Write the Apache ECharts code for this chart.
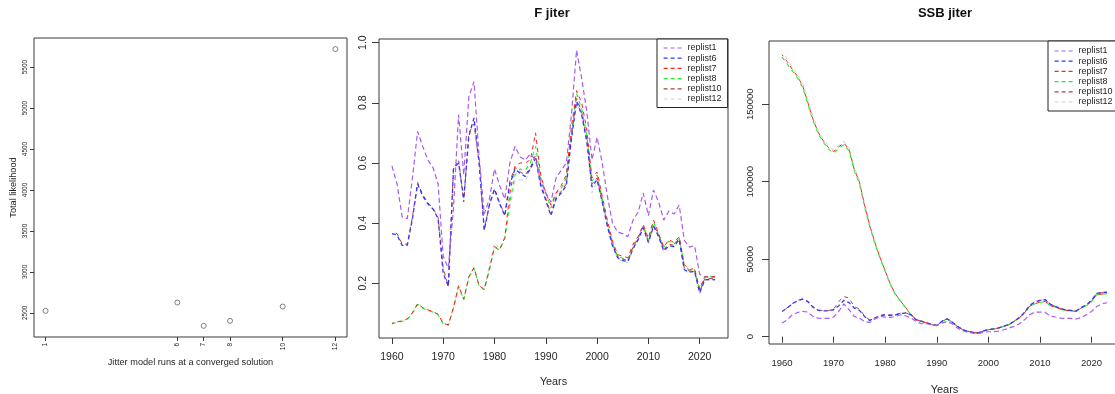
<!DOCTYPE html>
<html><head><meta charset="utf-8">
<script src="https://cdn.jsdelivr.net/npm/echarts@6/dist/echarts.min.js"></script>
<style>html,body{margin:0;padding:0;background:#fff}#c{width:1115px;height:394px}</style>
</head><body><div id="c"></div>
<script>
// ---------- data ----------
const jitterRuns = [1, 6, 7, 8, 10, 12];
const totalLikelihood = [2524, 2626, 2341, 2402, 2577, 5720];
const runTicks = [1, 6, 7, 8, 10, 12];
const likelihoodTicks = [2500, 3000, 3500, 4000, 4500, 5000, 5500];

const years = [1960,1961,1962,1963,1964,1965,1966,1967,1968,1969,1970,1971,1972,1973,1974,1975,1976,1977,1978,1979,
  1980,1981,1982,1983,1984,1985,1986,1987,1988,1989,1990,1991,1992,1993,1994,1995,1996,1997,1998,1999,
  2000,2001,2002,2003,2004,2005,2006,2007,2008,2009,2010,2011,2012,2013,2014,2015,2016,2017,2018,2019,
  2020,2021,2022,2023];
const yearTicks = [1960, 1970, 1980, 1990, 2000, 2010, 2020];
const fTicks = [0.2, 0.4, 0.6, 0.8, 1.0];
const ssbTicks = [0, 50000, 100000, 150000];
const replistNames = ['replist1', 'replist6', 'replist7', 'replist8', 'replist10', 'replist12'];

// F by year
const F_replist1 = [0.59,0.53,0.42,0.415,0.55,0.705,0.655,0.61,0.585,0.53,0.29,0.25,0.45,0.76,0.56,0.82,0.87,0.62,0.43,0.48,
  0.58,0.525,0.48,0.60,0.655,0.62,0.61,0.63,0.61,0.54,0.50,0.47,0.55,0.575,0.60,0.76,0.975,0.88,0.77,0.61,
  0.685,0.60,0.49,0.40,0.37,0.365,0.355,0.41,0.436,0.50,0.425,0.51,0.47,0.41,0.44,0.43,0.46,0.343,0.32,0.325,
  0.23,0.22,0.22,0.22];
const F_replist6 = [0.365,0.36,0.326,0.326,0.415,0.53,0.49,0.464,0.447,0.415,0.233,0.19,0.58,0.60,0.48,0.69,0.75,0.60,0.376,0.46,
  0.513,0.464,0.425,0.53,0.58,0.565,0.555,0.58,0.615,0.525,0.475,0.425,0.48,0.50,0.525,0.68,0.805,0.76,0.67,0.52,
  0.545,0.47,0.39,0.325,0.285,0.275,0.272,0.315,0.345,0.385,0.335,0.39,0.355,0.308,0.325,0.322,0.345,0.245,0.237,0.24,
  0.168,0.212,0.212,0.212];
const F_replist7 = [0.067,0.072,0.075,0.082,0.102,0.132,0.119,0.112,0.106,0.097,0.067,0.062,0.119,0.192,0.147,0.222,0.252,0.192,0.18,0.246,
  0.322,0.312,0.352,0.50,0.59,0.60,0.60,0.61,0.70,0.56,0.50,0.46,0.50,0.525,0.56,0.72,0.84,0.80,0.71,0.55,
  0.57,0.49,0.41,0.34,0.295,0.29,0.285,0.33,0.355,0.395,0.35,0.41,0.365,0.32,0.345,0.335,0.355,0.262,0.245,0.25,
  0.18,0.222,0.222,0.222];
const F_replist8 = [0.065,0.07,0.073,0.08,0.10,0.13,0.117,0.11,0.104,0.095,0.065,0.06,0.117,0.19,0.145,0.22,0.25,0.19,0.178,0.244,
  0.32,0.31,0.35,0.47,0.56,0.58,0.575,0.60,0.655,0.55,0.50,0.45,0.50,0.515,0.55,0.70,0.83,0.78,0.69,0.54,
  0.56,0.48,0.40,0.335,0.29,0.283,0.278,0.325,0.35,0.39,0.345,0.405,0.36,0.32,0.34,0.33,0.352,0.26,0.243,0.245,
  0.18,0.222,0.222,0.222];
const F_replist10 = [0.372,0.365,0.33,0.33,0.42,0.535,0.495,0.468,0.45,0.418,0.25,0.19,0.58,0.61,0.47,0.70,0.73,0.60,0.38,0.46,
  0.515,0.466,0.428,0.54,0.585,0.57,0.56,0.585,0.625,0.53,0.48,0.43,0.485,0.505,0.53,0.69,0.815,0.77,0.68,0.53,
  0.55,0.475,0.395,0.33,0.29,0.28,0.276,0.32,0.35,0.39,0.34,0.395,0.36,0.312,0.33,0.326,0.35,0.25,0.24,0.245,
  0.172,0.216,0.216,0.216];
const F_replist12 = [0.066,0.071,0.074,0.081,0.101,0.131,0.118,0.111,0.105,0.096,0.066,0.061,0.118,0.191,0.146,0.221,0.251,0.191,0.179,0.26,
  0.335,0.315,0.345,0.45,0.54,0.545,0.54,0.58,0.63,0.53,0.49,0.43,0.49,0.51,0.54,0.69,0.80,0.76,0.67,0.50,
  0.54,0.47,0.39,0.322,0.282,0.272,0.268,0.312,0.342,0.382,0.332,0.388,0.352,0.305,0.322,0.32,0.342,0.242,0.235,0.238,
  0.165,0.21,0.21,0.21];

// SSB by year
const SSB_replist1 = [8800,10900,14150,15650,16300,15900,13100,12000,11800,11800,12700,16300,21200,17400,13100,12000,9850,9200,11400,13100,
  12700,12400,13100,14150,13500,12000,9850,8350,8350,7700,7080,8800,9850,8350,5580,3860,2790,2360,1930,2790,
  3220,3220,3650,4500,5580,6650,8350,10900,14150,15900,15900,15650,13500,12700,12000,11800,11800,11400,12400,14150,
  16300,19500,21200,21900];
const SSB_replist6 = [16300,18450,21200,23200,24200,22700,19100,17000,16700,16700,17400,20000,23500,22000,18500,17000,13100,10500,12000,13500,
  14150,13700,14150,15000,15250,14150,11000,10000,9000,7900,7300,10000,11600,9400,6800,4600,3500,2850,2400,3700,
  4600,5000,5700,6800,7900,10000,12300,15700,20200,22500,23500,24000,21000,19600,18200,17300,17000,16600,18900,20600,
  23500,28000,28500,28700];
const SSB_replist7 = [182000,177500,172500,168000,162000,151200,140500,132000,126500,122000,119500,122500,125000,121000,108000,100000,85000,72000,60800,51200,
  42500,34000,27400,23000,18700,14300,11000,9900,8850,7750,7100,9900,11450,9250,6680,4520,3450,2800,2370,3660,
  4520,4950,5600,6680,7750,9900,12100,15300,19600,21300,22200,22800,20000,19100,17800,17000,16700,16300,18500,20000,
  22800,27100,27500,27800];
const SSB_replist8 = [180500,176000,171500,167000,161000,150000,139500,131000,125500,121000,118500,121500,124000,120000,107000,99000,84000,71000,60000,50500,
  42000,33500,27000,22700,18500,14200,10900,9850,8800,7700,7080,9850,11400,9220,6650,4500,3430,2790,2360,3650,
  4500,4930,5580,6650,7700,9850,12000,15250,19500,21250,22100,22700,19950,19100,17800,16950,16700,16300,18450,19950,
  22700,27000,27450,27700];
const SSB_replist10 = [16500,18600,21400,23400,24400,22900,19300,17200,16900,16900,17800,22700,25900,24900,19500,17800,13500,10700,12200,13700,
  14300,13900,14300,15200,15400,14300,11100,10000,9000,7900,7300,10000,11600,9400,6800,4600,3500,2850,2400,3700,
  4600,5000,5700,6800,7900,10000,12300,15600,20000,22300,23300,23800,20800,19500,18100,17200,16900,16500,18800,20400,
  23300,27800,28300,28500];
const SSB_replist12 = [184000,179000,174000,169500,163500,153000,142000,133500,127500,123000,120500,123500,126000,122000,109500,101000,86000,73000,61500,52000,
  43000,34500,27800,23300,18900,14500,11100,10000,9000,7900,7300,10000,11600,9400,6800,4600,3500,2850,2400,3700,
  4600,5000,5700,6800,7900,10000,12300,15700,20200,22500,23500,24200,21000,19600,18200,17300,17000,16600,18900,20600,
  23500,28200,28600,28800];

// ---------- styling ----------
const FONT = 'Liberation Sans, Arial, sans-serif';
const TXT = '#262626';
const BOX = '#3a3a3a';
const colors = ['#A95BF0', '#3535FF', '#FF2020', '#22EE22', '#B04040', '#D0D0D0'];
const widths = [1.2, 1.3, 1, 1.1, 1, 1];
const dashes = [[5, 3], [4, 3], [4, 4], [4, 4], [4, 4], [4, 4]];
const dashOffsets = [0, 0, 2, 0, 4, 3];

const Fdata = [F_replist1, F_replist6, F_replist7, F_replist8, F_replist10, F_replist12];
const SSBdata = [SSB_replist1, SSB_replist6, SSB_replist7, SSB_replist8, SSB_replist10, SSB_replist12];
const pairs = (arr) => years.map((y, i) => [y, arr[i]]);

function lineSeries(dataSets, axisIdx) {
  return dataSets.map((arr, k) => ({
    name: replistNames[k], type: 'line', xAxisIndex: axisIdx, yAxisIndex: axisIdx,
    data: pairs(arr), symbol: 'none', showSymbol: false, smooth: false,
    lineStyle: { color: colors[k], width: widths[k], type: dashes[k], dashOffset: dashOffsets[k] },
    itemStyle: { color: colors[k] },
    emphasis: { disabled: true }, animation: false, z: 10 - k
  }));
}

function valueAxis(opts) {
  const o = {
    type: 'value', gridIndex: opts.grid, min: opts.min, max: opts.max,
    axisLine: { show: false },
    splitLine: { show: false },
    axisTick: { show: true, length: opts.tickLen, lineStyle: { color: BOX, width: 1 }, customValues: opts.ticks },
    axisLabel: { show: true, customValues: opts.ticks, rotate: opts.rotate || 0, margin: opts.margin,
      fontFamily: FONT, fontSize: opts.fontSize, color: TXT, formatter: opts.fmt || ((v) => String(v)) },
  };
  if (opts.name) {
    o.name = opts.name; o.nameLocation = 'middle'; o.nameGap = opts.nameGap;
    o.nameTextStyle = { fontFamily: FONT, fontSize: opts.nameSize, color: TXT };
  }
  return o;
}

const legendBase = {
  orient: 'vertical', align: 'left', data: replistNames,
  itemWidth: 19, itemHeight: 8, itemGap: 1.2, itemTextGap: 5,
  backgroundColor: '#fff', borderColor: '#222', borderWidth: 1, borderRadius: 0,
  textStyle: { fontFamily: FONT, fontSize: 9, color: TXT, lineHeight: 9 },
  itemStyle: { opacity: 0 }, lineStyle: { type: [4, 3], dashOffset: 0, width: 1.2 },
  selectedMode: false
};

const gridBase = { show: true, borderColor: BOX, borderWidth: 1, backgroundColor: 'transparent', outerBoundsMode: 'none', containLabel: false };

const option = {
  animation: false,
  backgroundColor: '#fff',
  title: [
    { text: 'F jiter', left: 552, top: 7, textAlign: 'center', padding: 0,
      textStyle: { fontFamily: FONT, fontSize: 13, fontWeight: 'bold', color: '#111' } },
    { text: 'SSB jiter', left: 945, top: 7, textAlign: 'center', padding: 0,
      textStyle: { fontFamily: FONT, fontSize: 13, fontWeight: 'bold', color: '#111' } }
  ],
  legend: [
    Object.assign({}, legendBase, { left: 657, top: 39, padding: [4.5, 6, 4, 6] }),
    Object.assign({}, legendBase, { left: 1048, top: 41, padding: [5.5, 6, 4.5, 6] })
  ],
  grid: [
    Object.assign({ left: 34, top: 38, width: 313, height: 299 }, gridBase),
    Object.assign({ left: 379, top: 39, width: 349, height: 299 }, gridBase),
    Object.assign({ left: 769, top: 41, width: 351, height: 303 }, gridBase)
  ],
  xAxis: [
    valueAxis({ grid: 0, min: 0.56, max: 12.44, ticks: runTicks, tickLen: 4, rotate: 90, margin: 6, fontSize: 6.5,
      name: 'Jitter model runs at a converged solution', nameGap: 17, nameSize: 9.2 }),
    valueAxis({ grid: 1, min: 1957.48, max: 2025.52, ticks: yearTicks, tickLen: 6, margin: 14, fontSize: 10.5,
      name: 'Years', nameGap: 39, nameSize: 10.8 }),
    valueAxis({ grid: 2, min: 1957.48, max: 2025.52, ticks: yearTicks, tickLen: 6, margin: 14, fontSize: 9.5,
      name: 'Years', nameGap: 40, nameSize: 11 })
  ],
  yAxis: [
    valueAxis({ grid: 0, min: 2205, max: 5855, ticks: likelihoodTicks, tickLen: 4, rotate: 90, margin: 5, fontSize: 6.5,
      name: 'Total likelihood', nameGap: 16, nameSize: 9.2 }),
    valueAxis({ grid: 1, min: 0.018, max: 1.012, ticks: fTicks, tickLen: 7, rotate: 90, margin: 10, fontSize: 10.5,
      fmt: (v) => v.toFixed(1) }),
    valueAxis({ grid: 2, min: -4700, max: 190800, ticks: ssbTicks, tickLen: 7, rotate: 90, margin: 14, fontSize: 9.5 })
  ],
  series: [
    { name: 'Total likelihood', type: 'scatter', xAxisIndex: 0, yAxisIndex: 0,
      data: jitterRuns.map((r, i) => [r, totalLikelihood[i]]),
      symbol: 'circle', symbolSize: 5,
      itemStyle: { color: '#ffffff', borderColor: '#3a3a3a', borderWidth: 0.8 },
      emphasis: { disabled: true }, z: 5 },
    ...lineSeries(Fdata, 1),
    ...lineSeries(SSBdata, 2)
  ]
};

const chart = echarts.init(document.getElementById('c'), null, { renderer: 'canvas' });
chart.setOption(option);
</script>
</body></html>
